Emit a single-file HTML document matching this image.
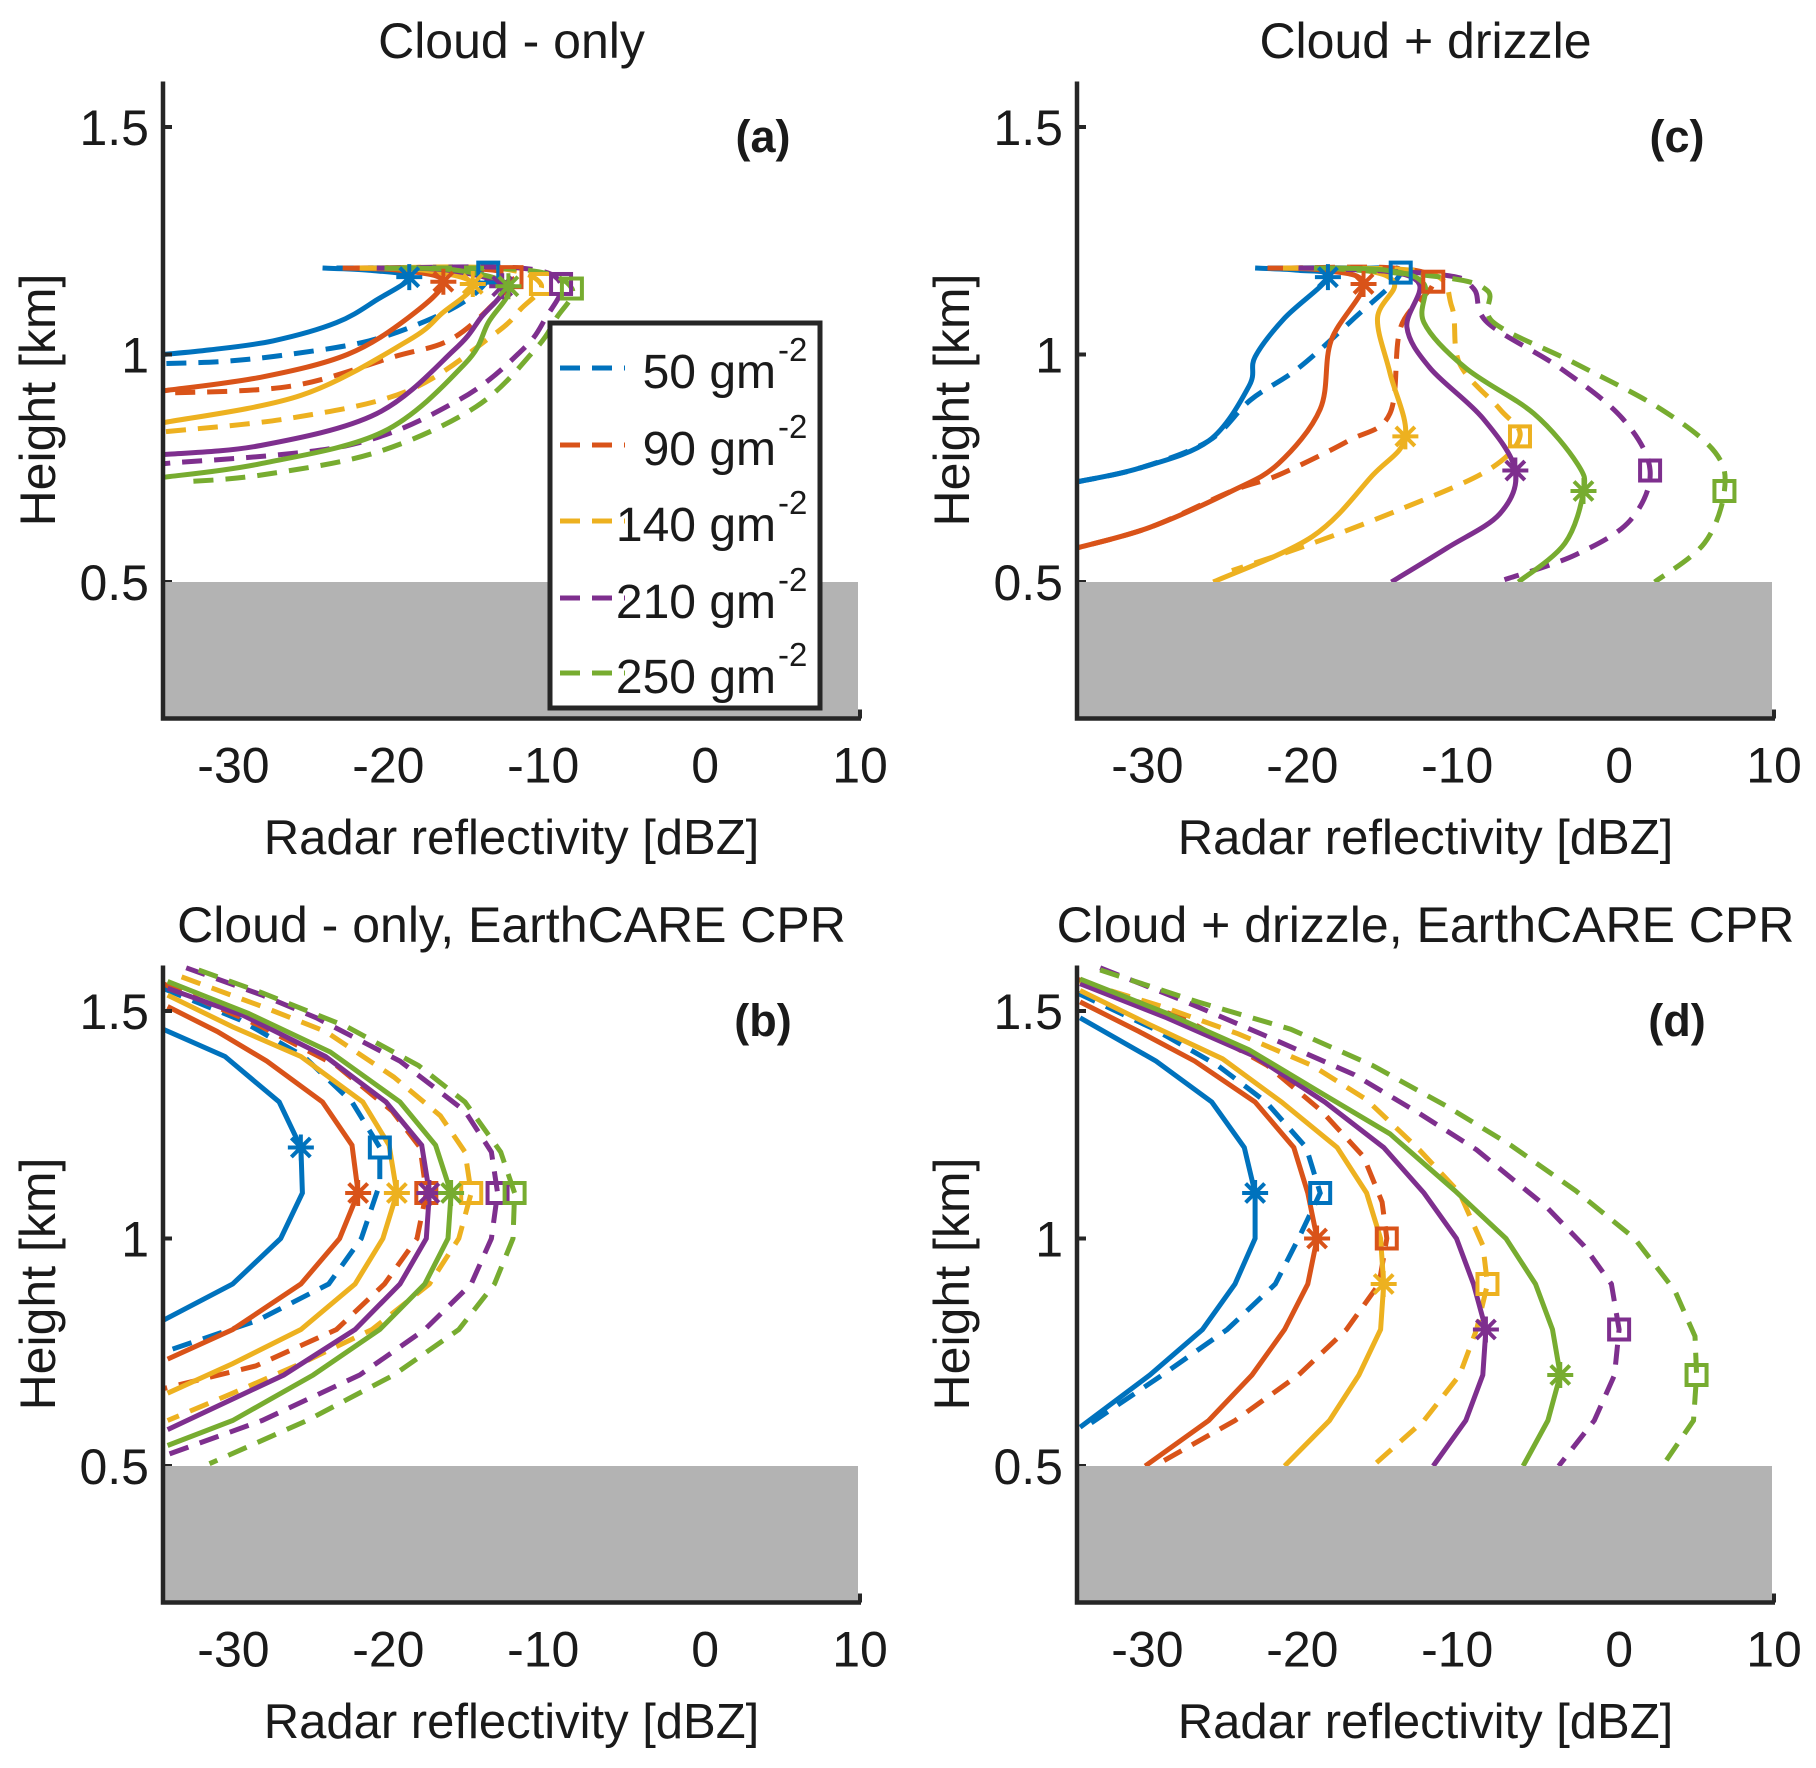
<!DOCTYPE html>
<html><head><meta charset="utf-8"><style>
html,body{margin:0;padding:0;background:#fff}
svg{display:block}
text{font-family:"Liberation Sans",sans-serif;fill:#1a1a1a}
</style></head><body>
<svg id="fig" width="1816" height="1768" viewBox="0 0 1816 1768" xmlns="http://www.w3.org/2000/svg"></svg>
<script>
// ---- data (dBZ, height km) ----
const colors = ["#0072BD","#D95319","#EDB120","#7E2F8E","#77AC30"];
const legendLabels = ["50","90","140","210","250"];
const xTicks = [-30,-20,-10,0,10];
const yTicks = [0.5,1,1.5];
const yTickLabels = ["0.5","1","1.5"];

// Panel (a) cloud-only
const aSolidX = [[-24.7,-21.7,-19.1,-21.2,-23.8,-27.9,-32,-35],[-23.4,-19.7,-16.9,-19.2,-23.1,-28.7,-35],[-22.3,-18.1,-15.0,-17.0,-19.2,-26.1,-35],[-21.2,-16.5,-13.1,-14.5,-16.2,-21.2,-28.7,-35],[-20.7,-16,-12.7,-14,-15.5,-20.8,-28.7,-35]];
const aSolidH = [[1.19,1.185,1.17,1.12,1.07,1.03,1.01,1.0],[1.19,1.185,1.16,1.08,1.0,0.95,0.92],[1.19,1.185,1.155,1.09,1.03,0.91,0.85],[1.19,1.185,1.15,1.08,1.01,0.87,0.80,0.78],[1.19,1.185,1.15,1.07,0.98,0.83,0.76,0.73]];
const aDashX = [[-23.8,-16.6,-14,-15,-17.6,-21.7,-26.9,-31,-35],[-22.7,-15.5,-12.5,-14,-16.6,-20.1,-26.8,-35],[-21.7,-13.5,-10.6,-11.9,-13.6,-19.2,-26.8,-35],[-20.7,-11.9,-9.3,-10.3,-11.8,-15.9,-23.1,-35],[-19.7,-11.4,-8.6,-9.6,-11,-14.8,-21.2,-28.7,-33.6]];
const aDashH = [[1.19,1.19,1.18,1.13,1.08,1.03,1.0,0.985,0.98],[1.19,1.19,1.17,1.1,1.03,0.995,0.93,0.915],[1.19,1.19,1.155,1.1,1.045,0.92,0.86,0.83],[1.19,1.19,1.155,1.08,1.01,0.90,0.80,0.76],[1.19,1.185,1.145,1.08,1.01,0.885,0.785,0.735,0.72]];
const aStarX = [-19.1,-16.9,-15.0,-13.1,-12.7];
const aStarH = [1.17,1.16,1.155,1.15,1.15];
const aSqX = [-14,-12.5,-10.6,-9.3,-8.6];
const aSqH = [1.18,1.17,1.155,1.155,1.145];

// Panel (c) cloud + drizzle
const cSolidX = [[-23.5,-20.7,-18.8,-21.6,-23.5,-23.9,-26.5,-31,-35],[-22.7,-19.1,-16.5,-18.6,-19.3,-22,-25,-30.3,-35],[-21.7,-16.5,-14.5,-15.6,-14.8,-13.8,-15.9,-19.8,-26.2],[-20.7,-15.5,-12.9,-13.7,-12.2,-8.8,-6.7,-7.7,-11.1,-14.7],[-19.7,-15,-12.6,-12.6,-9.9,-5.5,-2.7,-2.3,-3.5,-6.5]];
const cSolidH = [[1.19,1.185,1.17,1.08,0.995,0.93,0.81,0.75,0.72],[1.19,1.185,1.155,1.03,0.88,0.76,0.70,0.62,0.575],[1.19,1.185,1.155,1.08,0.96,0.82,0.735,0.6,0.5],[1.19,1.185,1.155,1.06,0.97,0.86,0.745,0.65,0.575,0.5],[1.19,1.185,1.155,1.07,0.97,0.87,0.76,0.70,0.585,0.5]];
const cDashX = [[-22.7,-16.6,-14.1,-17.1,-20.7,-23.8,-26.5,-31,-35],[-21.7,-14.5,-12,-14.1,-14.8,-17.5,-22,-25,-30.3,-35],[-20.7,-12.4,-10.8,-10.3,-7.7,-6.4,-8.5,-14.1,-19.8,-25],[-19.7,-11.4,-9.4,-8.5,-3.8,0.2,2.0,0.7,-2.8,-7.4],[-19,-11.4,-8.5,-8.1,-2.8,2.7,6.2,6.8,5.5,2.3]];
const cDashH = [[1.19,1.19,1.18,1.08,0.97,0.9,0.81,0.75,0.72],[1.19,1.19,1.16,1.06,0.87,0.81,0.735,0.70,0.62,0.575],[1.19,1.18,1.105,0.98,0.88,0.82,0.745,0.66,0.585,0.525],[1.19,1.175,1.145,1.07,0.97,0.86,0.745,0.635,0.56,0.505],[1.19,1.17,1.14,1.07,0.98,0.88,0.785,0.70,0.585,0.5]];
const cStarX = [-18.8,-16.5,-13.8,-6.7,-2.3];
const cStarH = [1.17,1.155,0.82,0.745,0.70];
const cSqX = [-14.1,-12,-6.4,2.0,6.8];
const cSqH = [1.18,1.16,0.82,0.745,0.70];

// Panel (b) cloud-only, EarthCARE CPR
const bSolidX = [[-35,-31,-27.5,-26.1,-26,-27.4,-30.5,-35],[-34.7,-31.5,-28.3,-24.7,-22.8,-22.4,-23.6,-26.1,-30.5,-34.7],[-34.7,-30.5,-26.1,-22.1,-20.4,-19.9,-20.8,-22.6,-26.1,-30.5,-34.7],[-34.7,-29.8,-24.5,-20.6,-18.3,-17.8,-18,-19.7,-22.6,-27.2,-34.7],[-34.7,-29.5,-24.2,-19.7,-17.4,-16.4,-16.6,-18.1,-21,-25.3,-30.5,-34.7]];
const bSolidH = [[1.46,1.4,1.3,1.2,1.1,1.0,0.9,0.82],[1.51,1.455,1.39,1.30,1.205,1.1,1.0,0.9,0.8,0.735],[1.535,1.465,1.4,1.3,1.205,1.1,1.0,0.9,0.8,0.725,0.66],[1.55,1.49,1.40,1.30,1.205,1.1,1.0,0.9,0.8,0.7,0.58],[1.565,1.495,1.41,1.3,1.205,1.1,1.0,0.9,0.8,0.7,0.6,0.545]];
const bDashX = [[-35,-30,-25.9,-22.8,-21,-21,-22.2,-24.3,-28.9,-35],[-35,-28.9,-23.8,-20.2,-18.4,-18,-18.6,-20.7,-23.8,-29,-35],[-33.8,-28.6,-24.5,-20.1,-17.1,-15.5,-15.1,-15.9,-17.8,-21.5,-26.1,-30.5,-34.7],[-33.5,-28.6,-25.1,-19.7,-15.5,-13.8,-13.4,-13.8,-15.1,-18.1,-22.3,-28.6,-34.7],[-32.7,-28.6,-23.1,-18.5,-15.5,-13.2,-12.3,-12.4,-13.6,-15.9,-20.1,-25.7,-32]];
const bDashH = [[1.55,1.48,1.4,1.3,1.2,1.12,1.0,0.9,0.82,0.75],[1.56,1.47,1.38,1.28,1.2,1.1,1.0,0.9,0.8,0.72,0.67],[1.575,1.51,1.455,1.355,1.27,1.19,1.1,1.0,0.9,0.8,0.725,0.66,0.6],[1.595,1.535,1.485,1.39,1.28,1.19,1.1,1.0,0.9,0.8,0.7,0.6,0.525],[1.59,1.54,1.465,1.38,1.30,1.19,1.1,1.0,0.9,0.8,0.7,0.6,0.505]];
const bStarX = [-26.1,-22.4,-19.9,-17.8,-16.4];
const bStarH = [1.2,1.1,1.1,1.1,1.1];
const bSqX = [-21,-18,-15.1,-13.4,-12.3];
const bSqH = [1.2,1.1,1.1,1.1,1.1];

// Panel (d) cloud + drizzle, EarthCARE CPR
const dSolidX = [[-34.8,-29.9,-26.3,-24.2,-23.5,-23.5,-24.8,-26.9,-30.3,-34.8],[-34.8,-31,-27.4,-23.5,-21,-20.1,-19.5,-20.1,-21.6,-23.7,-26.5,-30.6],[-34.8,-30.3,-25.6,-21.8,-18.2,-16.3,-15.4,-15.2,-15.4,-16.8,-18.7,-21.6],[-34.8,-29.2,-23.5,-19,-15.2,-12.6,-10.5,-9.4,-8.6,-8.8,-9.9,-12],[-34.8,-29.2,-23.9,-19,-14.8,-10.6,-7.3,-5.4,-4.3,-3.8,-4.6,-6.2]];
const dSolidH = [[1.485,1.39,1.3,1.2,1.1,1.0,0.9,0.8,0.7,0.585],[1.52,1.455,1.39,1.30,1.20,1.1,1.0,0.9,0.8,0.7,0.6,0.5],[1.545,1.47,1.395,1.30,1.20,1.1,1.0,0.9,0.8,0.7,0.6,0.5],[1.56,1.485,1.40,1.30,1.20,1.1,1.0,0.9,0.8,0.7,0.6,0.5],[1.57,1.495,1.415,1.315,1.23,1.105,1.0,0.9,0.8,0.7,0.6,0.5]];
const dDashX = [[-35,-30,-25.9,-22.8,-20.2,-19.3,-20.7,-22.2,-25.3,-29.5,-34.5],[-35,-27.9,-22.7,-19.2,-16.5,-15.3,-15,-15.5,-17.6,-20.7,-24.8,-30],[-34.8,-29.5,-24.6,-19.8,-16.3,-12.9,-10.3,-8.8,-8.5,-9.2,-10.3,-12.6,-15.9],[-33.5,-28.3,-22.8,-17.1,-12.9,-9.2,-4.7,-2.3,-0.5,0.0,-0.3,-1.6,-3.9],[-33.5,-27.2,-21.2,-15.9,-11.1,-7,-2.8,1,3.6,4.9,5.0,4.8,2.8]];
const dDashH = [[1.54,1.46,1.38,1.3,1.2,1.1,1.0,0.9,0.8,0.7,0.585],[1.57,1.48,1.38,1.28,1.18,1.08,1.0,0.9,0.8,0.7,0.6,0.5],[1.565,1.51,1.45,1.38,1.305,1.195,1.1,0.985,0.9,0.8,0.7,0.6,0.5],[1.595,1.525,1.445,1.36,1.275,1.195,1.07,0.985,0.9,0.8,0.7,0.6,0.5],[1.59,1.52,1.46,1.38,1.29,1.205,1.105,1.0,0.885,0.785,0.7,0.6,0.5]];
const dStarX = [-23.5,-19.5,-15.2,-8.6,-3.8];
const dStarH = [1.1,1.0,0.9,0.8,0.7];
const dSqX = [-19.3,-15,-8.5,0.0,5.0];
const dSqH = [1.1,1.0,0.9,0.8,0.7];

const NS = "http://www.w3.org/2000/svg";
const svg = document.getElementById('fig');
function mk(tag, attrs, parent){ const e=document.createElementNS(NS,tag); for(const k in attrs) e.setAttribute(k,attrs[k]); (parent||svg).appendChild(e); return e; }

const panels = [
 {id:"a", title:"Cloud - only", x0:163, x1:860, dy:0, smooth:true, sx:aSolidX, sh:aSolidH, dx:aDashX, dh:aDashH, stx:aStarX, sth:aStarH, sqx:aSqX, sqh:aSqH},
 {id:"c", title:"Cloud + drizzle", x0:1077, x1:1774, dy:0, smooth:true, sx:cSolidX, sh:cSolidH, dx:cDashX, dh:cDashH, stx:cStarX, sth:cStarH, sqx:cSqX, sqh:cSqH},
 {id:"b", title:"Cloud - only, EarthCARE CPR", x0:163, x1:860, dy:884, smooth:false, sx:bSolidX, sh:bSolidH, dx:bDashX, dh:bDashH, stx:bStarX, sth:bStarH, sqx:bSqX, sqh:bSqH},
 {id:"d", title:"Cloud + drizzle, EarthCARE CPR", x0:1077, x1:1774, dy:884, smooth:false, sx:dSolidX, sh:dSolidH, dx:dDashX, dh:dDashH, stx:dStarX, sth:dStarH, sqx:dSqX, sqh:dSqH}
];

function pathFrom(pts, smooth){
  if(!smooth){ return "M"+pts.map(p=>p[0].toFixed(1)+","+p[1].toFixed(1)).join(" L"); }
  let d="M"+pts[0][0]+","+pts[0][1];
  for(let i=0;i<pts.length-1;i++){
    const p0=pts[Math.max(0,i-1)], p1=pts[i], p2=pts[i+1], p3=pts[Math.min(pts.length-1,i+2)];
    const c1=[p1[0]+(p2[0]-p0[0])/6, p1[1]+(p2[1]-p0[1])/6];
    const c2=[p2[0]-(p3[0]-p1[0])/6, p2[1]-(p3[1]-p1[1])/6];
    d+=" C"+c1[0].toFixed(1)+","+c1[1].toFixed(1)+" "+c2[0].toFixed(1)+","+c2[1].toFixed(1)+" "+p2[0].toFixed(1)+","+p2[1].toFixed(1);
  }
  return d;
}

panels.forEach(P=>{
  const xs = v => P.x0 + (v+35)*(P.x1-P.x0)/45;
  const ys = h => P.dy + 582 - (h-0.5)*455;
  const cx = (P.x0+P.x1)/2;
  const g = mk('g',{});
  
  
  const t = mk('text',{x:cx, y:P.dy+58, 'text-anchor':'middle', 'font-size':50},g);
  t.textContent = P.title;
  
  
  const cp = mk('clipPath',{id:'clip'+P.id},g);
  mk('rect',{x:P.x0, y:ys(1.62), width:P.x1-P.x0, height:ys(0.2)-ys(1.62)},cp);
  const lg = mk('g',{'clip-path':'url(#clip'+P.id+')'},g);
  for(let s=0;s<5;s++){
    const ptsD = P.dx[s].map((v,i)=>[xs(v), ys(P.dh[s][i])]);
    const pd = mk('path',{d:pathFrom(ptsD,P.smooth), fill:'none', stroke:colors[s], 'stroke-width':5, 'stroke-dasharray':'20 12'},lg);
    
    
    const ptsS = P.sx[s].map((v,i)=>[xs(v), ys(P.sh[s][i])]);
    const ps = mk('path',{d:pathFrom(ptsS,P.smooth), fill:'none', stroke:colors[s], 'stroke-width':5},lg);
    
    
  }
  for(let s=0;s<5;s++){
    const qx=xs(P.sqx[s]), qy=ys(P.sqh[s]);
    const sq = mk('rect',{x:qx-10, y:qy-10, width:20, height:20, fill:'none', stroke:colors[s], 'stroke-width':4},lg);
    
    
    const px=xs(P.stx[s]), py=ys(P.sth[s]);
    const r=13, r2=9.5;
    const st = mk('path',{d:`M${px-r},${py} L${px+r},${py} M${px},${py-r} L${px},${py+r} M${px-r2},${py-r2} L${px+r2},${py+r2} M${px-r2},${py+r2} L${px+r2},${py-r2}`, stroke:colors[s], 'stroke-width':4, fill:'none'},lg);
    
    
  }
  yTicks.forEach((v,i)=>{
    mk('line',{x1:P.x0, x2:P.x0+9, y1:ys(v), y2:ys(v), stroke:'#262626','stroke-width':4},g);
    const tl = mk('text',{x:P.x0-14, y:ys(v)+18, 'text-anchor':'end', 'font-size':50},g);
    tl.textContent = yTickLabels[i];
    
    
  });
  xTicks.forEach(v=>{
    mk('line',{x1:xs(v), x2:xs(v), y1:ys(0.2), y2:ys(0.2)-9, stroke:'#262626','stroke-width':4},g);
    const tl = mk('text',{x:xs(v)-(v<0?7:0), y:ys(0.2)+64, 'text-anchor':'middle', 'font-size':50},g);
    tl.textContent = String(v);
    
    
  });
  const gr = mk('rect',{x:P.x0, y:ys(0.5), width:xs(10)-2-P.x0, height:ys(0.2)-ys(0.5), fill:'#b3b3b3'},g);
  
  
  const ax = mk('path',{d:`M${P.x0},${ys(1.6)} L${P.x0},${ys(0.2)} L${P.x1+1},${ys(0.2)}`, fill:'none', stroke:'#262626', 'stroke-width':4.5},g);
  
  
  const xl = mk('text',{x:cx, y:P.dy+854, 'text-anchor':'middle', 'font-size':49},g);
  xl.textContent = "Radar reflectivity [dBZ]";
  
  
  const ylx = P.x0-108, yly = P.dy+400;
  const yl = mk('text',{x:ylx, y:yly, 'text-anchor':'middle', 'font-size':50, transform:`rotate(-90 ${ylx} ${yly})`},g);
  yl.textContent = "Height [km]";
  
  
  const pl = mk('text',{x:P.x1-97, y:P.dy+152, 'text-anchor':'middle', 'font-size':45, 'font-weight':'bold'},g);
  pl.textContent = "("+P.id+")";
  
  
});

const lg = mk('g',{});


const lb = mk('rect',{x:550, y:323, width:270, height:385, fill:'#fff', stroke:'#262626', 'stroke-width':5},lg);


const legY = [368,445,521,598,673];
for(let s=0;s<5;s++){
  const e = mk('g',{},lg);
  
  
  mk('line',{x1:560, x2:625, y1:legY[s], y2:legY[s], stroke:colors[s], 'stroke-width':5, 'stroke-dasharray':'20 12'},e);
  const tx = mk('text',{x:776, y:legY[s]+20, 'text-anchor':'end', 'font-size':48},e);
  tx.textContent = legendLabels[s]+" gm";
  const sp = mk('text',{x:778, y:legY[s]-7, 'text-anchor':'start', 'font-size':33},e);
  sp.textContent = "-2";
}
</script>
</body></html>
